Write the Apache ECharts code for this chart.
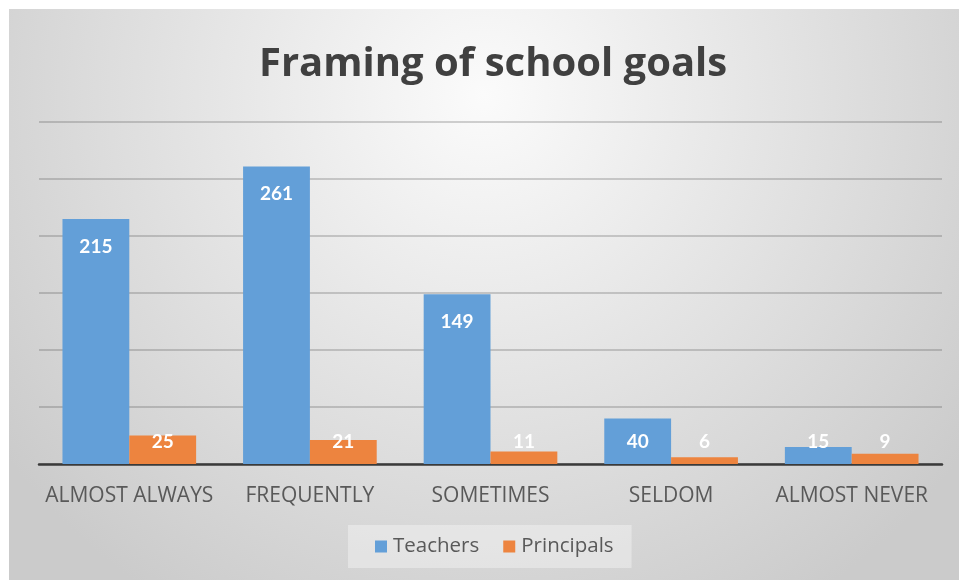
<!DOCTYPE html>
<html>
<head>
<meta charset="utf-8">
<script src="https://cdn.jsdelivr.net/npm/echarts@6/dist/echarts.min.js"></script>
<style>
  html, body { margin: 0; padding: 0; background: #ffffff; }
  #chart { width: 959px; height: 580px; }
</style>
</head>
<body>
<div id="chart"></div>
<script>
// Survey responses: how often school goals are framed
const categories = ['ALMOST ALWAYS', 'FREQUENTLY', 'SOMETIMES', 'SELDOM', 'ALMOST NEVER'];
const teachers = [215, 261, 149, 40, 15];
const principals = [25, 21, 11, 6, 9];
const seriesNames = ['Teachers', 'Principals'];

const FONT = '"Open Sans", "Noto Sans", sans-serif';
const LABEL_FONT = 'Lato, "Open Sans", sans-serif';

const chart = echarts.init(document.getElementById('chart'), null, { renderer: 'canvas' });

// Value labels sit just inside the bar top, but never lower than a fixed band above the axis
function keepLabelAboveBase(params) {
  const r = params.rect;
  const l = params.labelRect;
  const base = r.y + r.height;
  const maxTop = base - 32;
  if (l.y > maxTop) {
    return { dy: maxTop - l.y };
  }
  return {};
}

const valueLabel = {
  show: true,
  position: 'insideTop',
  distance: 18,
  color: '#ffffff',
  fontFamily: LABEL_FONT,
  fontWeight: 'bold',
  fontSize: 19
};

chart.setOption({
  backgroundColor: '#ffffff',
  animation: false,
  graphic: [{
    type: 'rect',
    left: 9,
    top: 9,
    z: -10,
    shape: { width: 950, height: 571 },
    style: {
      fill: new echarts.graphic.RadialGradient(0.5, 0.15, 1.05, [
        { offset: 0, color: '#fbfbfb' },
        { offset: 1, color: '#cbcbcb' }
      ])
    }
  }],
  title: {
    text: 'Framing of school goals',
    left: 254,
    top: 40,
    textStyle: {
      fontFamily: FONT,
      fontWeight: 'bold',
      fontSize: 40,
      color: '#404040'
    }
  },
  legend: {
    data: seriesNames,
    left: 348,
    top: 525,
    padding: [11, 18, 11, 27],
    itemGap: 24,
    itemWidth: 12,
    itemHeight: 12,
    icon: 'rect',
    backgroundColor: 'rgba(255,255,255,0.35)',
    textStyle: {
      fontFamily: FONT,
      fontSize: 20.5,
      color: '#595959',
      padding: [0, 0, 0, 1]
    }
  },
  grid: {
    left: 39,
    right: 17,
    top: 122,
    bottom: 116,
    containLabel: false
  },
  xAxis: {
    type: 'category',
    data: categories,
    axisTick: { show: false },
    axisLine: { lineStyle: { color: '#3a3a3a', width: 2.5 } },
    axisLabel: {
      fontFamily: FONT,
      fontSize: 21,
      color: '#595959',
      margin: 22,
      interval: 0
    }
  },
  yAxis: {
    type: 'value',
    min: 0,
    max: 300,
    interval: 50,
    axisLabel: { show: false },
    axisLine: { show: false },
    axisTick: { show: false },
    splitLine: { lineStyle: { color: 'rgba(60,60,60,0.3)', width: 1.5 } }
  },
  series: [
    {
      name: seriesNames[0],
      type: 'bar',
      data: teachers,
      barGap: '0%',
      barCategoryGap: '26%',
      itemStyle: { color: '#639fd8' },
      label: valueLabel,
      labelLayout: keepLabelAboveBase
    },
    {
      name: seriesNames[1],
      type: 'bar',
      data: principals,
      barGap: '0%',
      barCategoryGap: '26%',
      itemStyle: { color: '#ed843f' },
      label: valueLabel,
      labelLayout: keepLabelAboveBase
    }
  ]
});
</script>
</body>
</html>
